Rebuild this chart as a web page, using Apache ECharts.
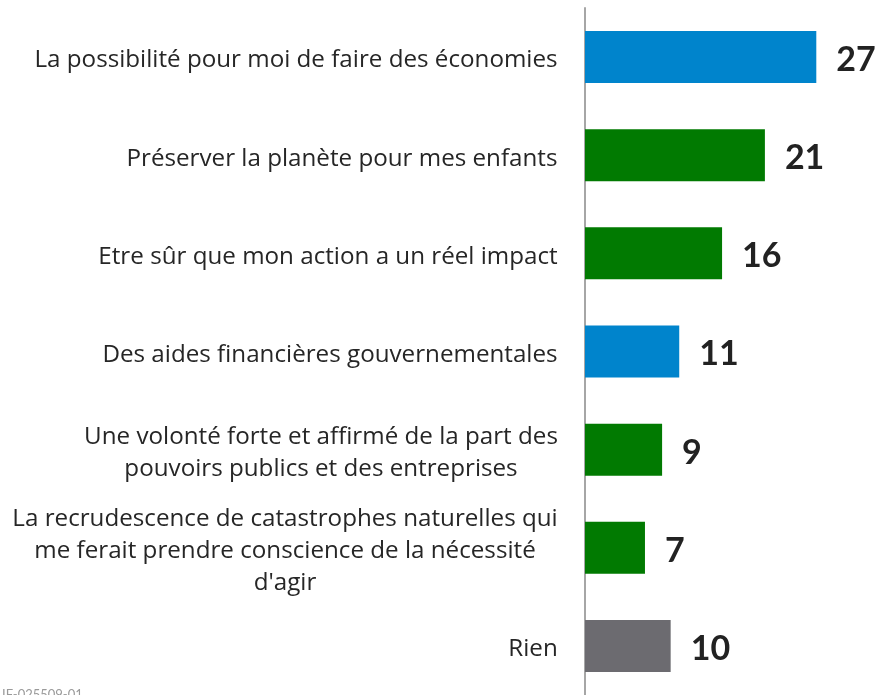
<!DOCTYPE html>
<html>
<head>
<meta charset="utf-8">
<script src="https://cdn.jsdelivr.net/npm/echarts@6/dist/echarts.min.js"></script>
<style>
  html, body { margin: 0; padding: 0; background: #fff; }
  #main { width: 875px; height: 695px; }
</style>
</head>
<body>
<div id="main"></div>
<script>
// categories (top to bottom)
const categories = [
  'La possibilité pour moi de faire des économies',
  'Préserver la planète pour mes enfants',
  'Etre sûr que mon action a un réel impact',
  'Des aides financières gouvernementales',
  'Une volonté forte et affirmé de la part des\npouvoirs publics et des entreprises',
  'La recrudescence de catastrophes naturelles qui\nme ferait prendre conscience de la nécessité\nd\'agir',
  'Rien'
]
const values = [27, 21, 16, 11, 9, 7, 10]
const barColors = ['#0084CC', '#017A01', '#017A01', '#0084CC', '#017A01', '#017A01', '#6C6B70']

const labelFont = 'Open Sans'
const labelSize = 24.2

// measure the widest line of each label so the lines can be centred inside their block
const ctx = document.createElement('canvas').getContext('2d')
ctx.font = labelSize + 'px "' + labelFont + '"'
const rich = {}
categories.forEach((c, i) => {
  const w = Math.max(...c.split('\n').map(l => ctx.measureText(l).width))
  rich['b' + i] = { width: Math.ceil(w), align: 'center', fontFamily: labelFont, fontSize: labelSize, color: '#262626', lineHeight: 32 }
})

const chart = echarts.init(document.getElementById('main'))
const option = {
  animation: false,
  grid: { left: 585, right: 33, top: 8, bottom: -2, containLabel: false },
  xAxis: {
    type: 'value',
    min: 0,
    max: 30,
    show: false
  },
  yAxis: {
    type: 'category',
    inverse: true,
    data: categories,
    axisLine: { show: true, lineStyle: { color: '#A6A6A6', width: 2 } },
    axisTick: { show: false },
    axisLabel: {
      margin: 27,
      align: 'right',
      padding: [7, 0, 0, 0],
      fontFamily: labelFont,
      fontSize: labelSize,
      color: '#262626',
      lineHeight: 32,
      rich: rich,
      formatter: function (value, idx) {
        return value.split('\n').map(l => '{b' + idx + '|' + l + '}').join('\n')
      }
    }
  },
  series: [{
    type: 'bar',
    barWidth: 52,
    data: values.map((v, i) => ({ value: v, itemStyle: { color: barColors[i] } })),
    label: {
      show: true,
      position: 'right',
      distance: 20,
      offset: [0, 3],
      fontFamily: 'Lato',
      fontWeight: 'bold',
      fontSize: 34,
      color: '#222'
    }
  }],
  graphic: [{
    type: 'text',
    left: 2,
    top: 688,
    style: { text: 'IF-025509-01', fontSize: 13, fill: '#9a9a9a', fontFamily: 'Lato' }
  }]
}
chart.setOption(option)
</script>
</body>
</html>
